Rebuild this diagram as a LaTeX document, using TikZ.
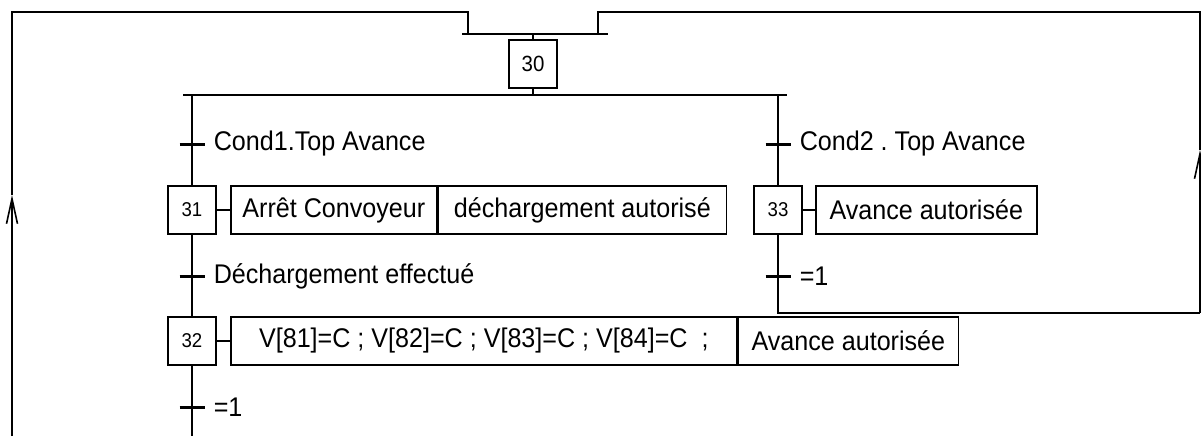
\documentclass[tikz,border=0pt]{standalone}
\usepackage{fontspec}
\setmainfont{Liberation Sans}
\newfontfamily\grafcetfont[FakeStretch=0.93]{Liberation Sans}
\frenchspacing
\usetikzlibrary{positioning,arrows.meta}

\tikzset{
  etape/.style={draw, minimum width=24pt, minimum height=24pt, inner sep=0pt, font=\grafcetfont\fontsize{10}{11}\selectfont},
  action/.style={draw, minimum height=24pt, inner sep=0pt, anchor=west, font=\grafcetfont\fontsize{13.5}{16}\selectfont},
  recept/.style={line width=1.5pt},
  cond/.style={inner sep=0pt, anchor=west, font=\grafcetfont\fontsize{13.5}{16}\selectfont},
}

\begin{document}
\begin{tikzpicture}[x=0.5pt, y=-0.5pt, line width=0.8pt, >={Straight Barb[length=12.5pt,width=5.5pt]}]
\useasboundingbox (0,0) rectangle (1201,436);
% etapes
\node[etape, font=\grafcetfont\fontsize{11}{12}\selectfont] (e30) at (533,64) {30};
\node[etape] (e31) at (192,210) {31};
\node[etape] (e32) at (192,341) {32};
\node[etape] (e33) at (778,210) {33};
% actions
\node[action, minimum width=103pt] (a31) at (230,210) {Arrêt Convoyeur};
\node[action, minimum width=144pt] (a31b) at (a31.east) {déchargement autorisé};
\node[action, minimum width=253pt] (a32) at (230,341) {V[81]=C ; V[82]=C ; V[83]=C ; V[84]=C \ ;};
\node[action, minimum width=110pt] (a32b) at (a32.east) {Avance autorisée};
\node[action, minimum width=110.5pt] (a33) at (815,210) {Avance autorisée};
\draw (e31.east) -- (a31.west);
\draw (e32.east) -- (a32.west);
\draw (e33.east) -- (a33.west);
% synchronisation et divergence
\coordinate (s1) at (462,34);
\coordinate (s2) at (608,34);
\coordinate (d1) at (183,95);
\coordinate (d2) at (787,95);
\draw[line width=1pt] (s1) -- (s2);
\draw (d1) -- (d2);
\draw (e30.north) -- (e30.north |- s1);
\draw (e30.south) -- (e30.south |- d1);
% transitions
\foreach \nom/\px/\py/\txt in {t1/192/144/{Cond1.Top Avance}, t2/778/144/{Cond2 . Top Avance},
    t3/192/276/{Déchargement effectué}, t4/778/276/{=1}, t5/192/407/{=1}} {
  \coordinate (\nom) at (\px,\py);
  \draw[recept] ([xshift=-6.25pt]\nom) -- ([xshift=6.25pt]\nom);
  \node[cond, right=10.5pt of \nom] {\txt};
}
% branches
\coordinate (bas) at (0,436);
\draw (e31 |- d1) -- (t1) -- (e31.north);
\draw (e31.south) -- (t3) -- (e32.north);
\draw (e32.south) -- (t5) -- (e32 |- bas);
\draw (e33 |- d1) -- (t2) -- (e33.north);
% retours
\coordinate (r1) at (1200,313);
\coordinate (r2) at (1200,150);
\coordinate (r3) at (1200,12);
\coordinate (r4) at (598,12);
\coordinate (r5) at (598,34);
\draw (e33.south) -- (t4) -- (e33 |- r1) -- (r1);
\draw[->] (r1) -- (r2);
\draw (r2) -- (r3) -- (r4) -- (r5);
\coordinate (l1) at (12,436);
\coordinate (l2) at (12,195);
\coordinate (l3) at (12,12);
\coordinate (l4) at (468,12);
\coordinate (l5) at (468,34);
\draw[->] (l1) -- (l2);
\draw (l2) -- (l3) -- (l4) -- (l5);
\end{tikzpicture}
\end{document}
